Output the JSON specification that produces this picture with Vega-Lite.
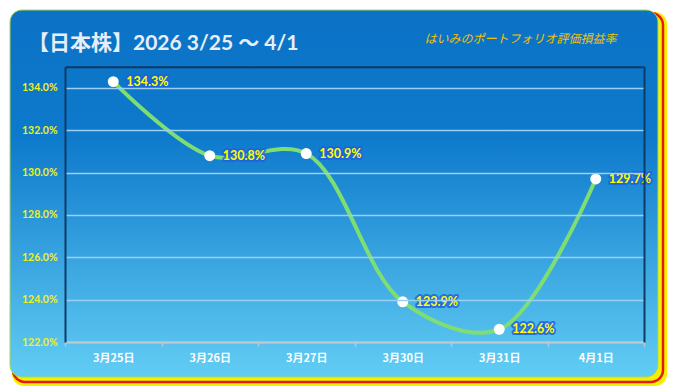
{
  "$schema": "https://vega.github.io/schema/vega-lite/v6.json",
  "width": 648,
  "height": 367,
  "autosize": {"type": "none"},
  "padding": {"left": 10, "top": 10, "right": 16, "bottom": 15},
  "background": "white",
  "config": {"view": {"stroke": null}},
  "title": {
    "text": "【日本株】2026 3/25 〜 4/1",
    "anchor": "start",
    "frame": "group",
    "offset": -42,
    "dx": 18,
    "dy": 2,
    "font": "Lato, Noto Sans CJK JP",
    "fontSize": 21,
    "fontWeight": "bold",
    "color": "#e6eef8"
  },
  "datasets": {
    "d": [
      {"date": "3月25日", "v": 1.343},
      {"date": "3月26日", "v": 1.308},
      {"date": "3月27日", "v": 1.309},
      {"date": "3月30日", "v": 1.239},
      {"date": "3月31日", "v": 1.226},
      {"date": "4月1日", "v": 1.297}
    ]
  },
  "resolve": {"axis": {"x": "independent", "y": "independent"}},
  "layer": [
    {
      "data": {"values": [{}]},
      "mark": {"type": "rect", "fill": "#f5f000", "xOffset": 2, "x2Offset": 9, "yOffset": 2, "y2Offset": 9, "cornerRadius": 12},
      "encoding": {"x": {"value": 0}, "x2": {"value": "width"}, "y": {"value": 0}, "y2": {"value": "height"}}
    },
    {
      "data": {"values": [{}]},
      "mark": {"type": "rect", "fillOpacity": 0, "stroke": "#e81818", "strokeWidth": 2.5, "xOffset": 3, "x2Offset": 5, "yOffset": 3, "y2Offset": 5, "cornerRadius": 12},
      "encoding": {"x": {"value": 0}, "x2": {"value": "width"}, "y": {"value": 0}, "y2": {"value": "height"}}
    },
    {
      "data": {"values": [{}]},
      "mark": {
        "type": "rect",
        "cornerRadius": 12,
        "stroke": "#a8d850",
        "strokeWidth": 1,
        "fill": {
          "x1": 0, "y1": 0, "x2": 0, "y2": 1,
          "gradient": "linear",
          "stops": [
            {"offset": 0, "color": "#0b72c6"},
            {"offset": 0.35, "color": "#0e7acc"},
            {"offset": 1, "color": "#62cdf3"}
          ]
        }
      },
      "encoding": {}
    },
    {
      "data": {"name": "d"},
      "encoding": {
        "x": {
          "field": "date", "type": "ordinal", "sort": null,
          "scale": {"type": "band", "range": [55, 634], "paddingInner": 0, "paddingOuter": 0},
          "axis": {
            "orient": "bottom", "offset": -35, "title": null, "labelAngle": 0,
            "labelColor": "white", "labelFont": "Noto Sans CJK JP", "labelFontSize": 11,
            "labelFontWeight": "bold", "labelPadding": 6, "tickBand": "extent",
            "tickColor": "#c0c8d0", "tickSize": 4, "tickWidth": 1.5,
            "domainColor": "#c0c8d0", "domainWidth": 2, "grid": false, "zindex": 1
          }
        },
        "y": {
          "field": "v", "type": "quantitative",
          "scale": {"domain": [1.22, 1.35], "range": [332, 56.8], "nice": false, "zero": false},
          "axis": {
            "orient": "left", "offset": -55, "title": null,
            "values": [1.22, 1.24, 1.26, 1.28, 1.30, 1.32, 1.34],
            "format": ".1%", "labelColor": "#f0f020", "labelFont": "Lato",
            "labelFontSize": 10.5, "labelFontWeight": "bold", "labelPadding": 8,
            "ticks": false, "domainColor": "#0e3a66", "domainWidth": 2,
            "grid": true, "gridColor": "#9ad0f4", "gridWidth": 1.5, "zindex": 1
          }
        }
      },
      "layer": [
        {"mark": {"type": "line", "interpolate": "catmull-rom", "color": "#7ede72", "strokeWidth": 4}},
        {
          "mark": {"type": "text", "align": "left", "baseline": "middle", "dx": 13, "font": "Lato", "fontSize": 12.5, "fontWeight": "bold", "fill": "#1e60e0", "stroke": "#1e60e0", "strokeWidth": 4, "strokeOpacity": 0.8, "strokeJoin": "round"},
          "encoding": {"text": {"field": "v", "format": ".1%"}}
        },
        {
          "mark": {"type": "text", "align": "left", "baseline": "middle", "dx": 13, "font": "Lato", "fontSize": 12.5, "fontWeight": "bold", "fill": "#ffff00", "stroke": null},
          "encoding": {"text": {"field": "v", "format": ".1%"}}
        }
      ]
    },
    {
      "data": {"name": "d"},
      "mark": {"type": "circle", "color": "white", "opacity": 1, "size": 120},
      "encoding": {
        "x": {
          "field": "date", "type": "ordinal", "sort": null,
          "scale": {"type": "band", "range": [55, 634], "paddingInner": 0, "paddingOuter": 0},
          "axis": {
            "orient": "top", "offset": -56.8, "labels": false, "ticks": false, "grid": false,
            "domainColor": "#0e3a66", "domainWidth": 2, "zindex": 1,
            "title": "はいみのポートフォリオ評価損益率",
            "titleX": 510, "titleY": -21, "titleAlign": "center", "titleBaseline": "bottom",
            "titleColor": "#f2c200", "titleFont": "Noto Sans CJK JP", "titleFontSize": 12,
            "titleFontStyle": "italic", "titleFontWeight": "normal"
          }
        },
        "y": {
          "field": "v", "type": "quantitative",
          "scale": {"domain": [1.22, 1.35], "range": [332, 56.8], "nice": false, "zero": false},
          "axis": {
            "orient": "right", "offset": -14, "labels": false, "ticks": false, "grid": false,
            "title": null, "domainColor": "#0e3a66", "domainWidth": 2, "zindex": 1
          }
        }
      }
    }
  ]
}
